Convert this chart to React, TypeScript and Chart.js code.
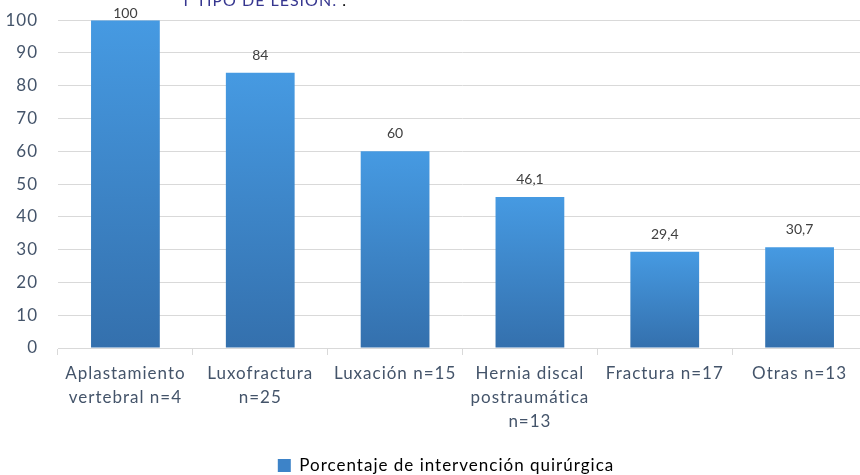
import React, { useEffect, useRef } from 'react';
import { Chart, registerables } from 'chart.js';

Chart.register(...registerables);

const categories: string[][] = [
  ['Aplastamiento', 'vertebral n=4'],
  ['Luxofractura', 'n=25'],
  ['Luxación n=15'],
  ['Hernia discal', 'postraumática', 'n=13'],
  ['Fractura n=17'],
  ['Otras n=13'],
];
const values: number[] = [100, 84, 60, 46.1, 29.4, 30.7];
const seriesName = 'Porcentaje de intervención quirúrgica';
const yMin = 0;
const yMax = 100;
const yStep = 10;
const titleText = 'T TIPO DE LESIÓN:';
const titleTail = ' .';

const FONT = 'Lato, "Open Sans", sans-serif';
const TEXT = '#44546A';
const GRID = '#D9D9D9';
const SHIFT = 10;

const fmt = (v: number) => String(v).replace('.', ',');

const spacingPlugin = {
  id: 'spacing',
  beforeInit(chart: any) {
    chart.ctx.letterSpacing = '1px';
  },
  beforeUpdate(chart: any) {
    chart.ctx.letterSpacing = '1px';
  },
  beforeDraw(chart: any) {
    chart.ctx.letterSpacing = '1px';
  },
};

const labelsPlugin = {
  id: 'valueLabels',
  afterDatasetsDraw(chart: any) {
    const ctx = chart.ctx;
    const meta = chart.getDatasetMeta(0);
    ctx.save();
    ctx.letterSpacing = '0px';
    ctx.font = `14px ${FONT}`;
    ctx.fillStyle = '#404040';
    ctx.textAlign = 'center';
    ctx.textBaseline = 'alphabetic';
    meta.data.forEach((bar: any, i: number) => {
      const y = Math.max(bar.y - 13, chart.chartArea.top - 2);
      ctx.fillText(fmt(values[i]), bar.x, y);
    });
    ctx.restore();
  },
};

const titlePlugin = {
  id: 'cutTitle',
  afterDraw(chart: any) {
    const ctx = chart.ctx;
    ctx.save();
    ctx.letterSpacing = '1px';
    ctx.font = `16px ${FONT}`;
    ctx.textAlign = 'left';
    ctx.textBaseline = 'alphabetic';
    ctx.fillStyle = '#36368F';
    ctx.fillText(titleText, 181, 6 + SHIFT);
    const w = ctx.measureText(titleText).width;
    ctx.fillStyle = '#000000';
    ctx.fillText(titleTail, 181 + w, 6 + SHIFT);
    ctx.restore();
  },
};

const legendShift = {
  id: 'legendShift',
  afterLayout(chart: any) {
    const lg = chart.legend;
    if (!lg) return;
    const d = 446 - (lg.left + lg.right) / 2;
    lg.left += d;
    lg.right += d;
  },
};

export default function App() {
  const ref = useRef<HTMLCanvasElement | null>(null);
  useEffect(() => {
    if (!ref.current) return;
    const chart = new Chart(ref.current, {
      type: 'bar',
      data: {
        labels: categories,
        datasets: [
          {
            label: seriesName,
            data: values,
            backgroundColor: (c: any) => {
              const ch = c.chart;
              const { chartArea, scales } = ch;
              if (!chartArea || c.type !== 'data' || !scales.y) return '#3D83C8';
              const v = c.parsed ? c.parsed.y : values[c.dataIndex];
              const top = scales.y.getPixelForValue(v);
              const bottom = scales.y.getPixelForValue(0);
              const g = ch.ctx.createLinearGradient(0, top, 0, bottom);
              g.addColorStop(0, '#469AE2');
              g.addColorStop(1, '#3470AD');
              return g;
            },
            borderWidth: 0,
            categoryPercentage: 1,
            barPercentage: 0.51,
          },
        ],
      },
      options: {
        responsive: false,
        animation: false,
        devicePixelRatio: 1,
        layout: { padding: { top: 10, left: 0, right: 0, bottom: 0 } },
        plugins: {
          tooltip: { enabled: false },
          title: { display: false },
          legend: {
            display: true,
            position: 'bottom',
            labels: {
              boxWidth: 13,
              boxHeight: 13,
              padding: 4,
              color: TEXT,
              font: { family: FONT, size: 17 },
              generateLabels: () => [
                {
                  text: seriesName,
                  fillStyle: '#3D83C8',
                  strokeStyle: 'rgba(0,0,0,0)',
                  lineWidth: 0,
                  hidden: false,
                  datasetIndex: 0,
                } as any,
              ],
            },
          },
        },
        scales: {
          x: {
            offset: true,
            grid: {
              offset: true,
              drawOnChartArea: false,
              drawTicks: true,
              tickLength: 7,
              color: GRID,
            },
            border: { display: true, color: GRID },
            ticks: {
              color: TEXT,
              padding: 7,
              maxRotation: 0,
              minRotation: 0,
              autoSkip: false,
              font: { family: FONT, size: 17, lineHeight: '24px' as any },
            },
            afterFit: (s: any) => {
              s.height = 105;
            },
          },
          y: {
            min: yMin,
            max: yMax,
            ticks: {
              stepSize: yStep,
              color: TEXT,
              padding: 20,
              font: { family: FONT, size: 17 },
            },
            grid: { color: GRID, drawTicks: false },
            border: { display: false },
            afterFit: (s: any) => {
              s.width = 58;
            },
          },
        },
      },
      plugins: [spacingPlugin, labelsPlugin, titlePlugin, legendShift],
    });
    return () => chart.destroy();
  }, []);

  return (
    <div
      style={{
        position: 'fixed',
        left: 0,
        top: 0,
        width: 860,
        height: 475,
        overflow: 'hidden',
        background: '#ffffff',
      }}
    >
      <canvas
        ref={ref}
        width={867}
        height={494}
        style={{ display: 'block', marginTop: -SHIFT }}
      />
    </div>
  );
}
